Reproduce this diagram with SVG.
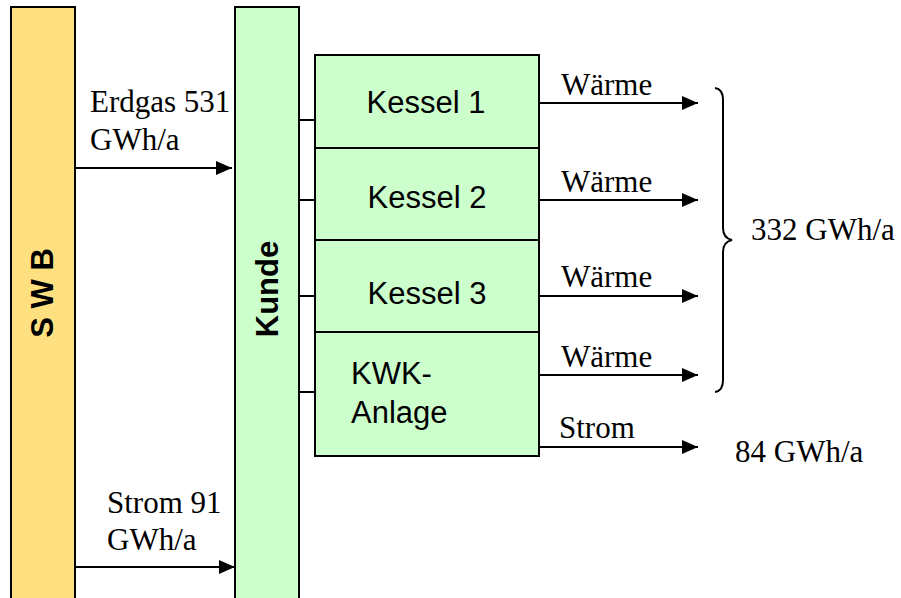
<svg xmlns="http://www.w3.org/2000/svg" width="901" height="598" viewBox="0 0 901 598">
<style>
.bar{stroke:#000;stroke-width:2}
.box{fill:#CCFFCC;stroke:#000;stroke-width:2}
.ser{font-family:"Liberation Serif","Times New Roman",serif;font-size:31px;fill:#000}
.san{font-family:"Liberation Sans",Arial,sans-serif;font-size:31px;fill:#000}
.bold{font-family:"Liberation Sans",Arial,sans-serif;font-size:31px;font-weight:bold;fill:#000}
.ln{stroke:#000;stroke-width:2;fill:none}
</style>
<defs>
<marker id="ah" markerWidth="16" markerHeight="14" refX="16" refY="7" orient="auto" markerUnits="userSpaceOnUse">
<path d="M0,0 L16,7 L0,14 Z" fill="#000"/>
</marker>
</defs>
<rect width="901" height="598" fill="#fff"/>
<g id="swb">
<rect class="bar" x="11" y="7" width="64" height="600" fill="#FFE080"/>
<text class="bold" transform="translate(53,293) rotate(-90)" text-anchor="middle">S W B</text>
</g>
<g id="kunde">
<rect class="bar" x="235" y="7" width="64" height="600" fill="#CCFFCC"/>
<text class="bold" transform="translate(278,289) rotate(-90)" text-anchor="middle">Kunde</text>
</g>
<g id="kessel1">
<rect class="box" x="315" y="55" width="224" height="93"/>
<text class="san" x="426" y="113" text-anchor="middle">Kessel 1</text>
</g>
<g id="kessel2">
<rect class="box" x="315" y="148" width="224" height="92"/>
<text class="san" x="427" y="208" text-anchor="middle">Kessel 2</text>
</g>
<g id="kessel3">
<rect class="box" x="315" y="240" width="224" height="92"/>
<text class="san" x="427" y="304" text-anchor="middle">Kessel 3</text>
</g>
<g id="kwk">
<rect class="box" x="315" y="332" width="224" height="124"/>
<text class="san" x="351" y="384">KWK-</text>
<text class="san" x="351" y="423">Anlage</text>
</g>
<g id="connectors">
<line class="ln" x1="75" y1="168" x2="232" y2="168" marker-end="url(#ah)"/>
<line class="ln" x1="75" y1="567" x2="235" y2="567" marker-end="url(#ah)"/>
<line class="ln" x1="299" y1="120" x2="315" y2="120"/>
<line class="ln" x1="299" y1="200" x2="315" y2="200"/>
<line class="ln" x1="299" y1="296" x2="315" y2="296"/>
<line class="ln" x1="299" y1="392" x2="315" y2="392"/>
<line class="ln" x1="539" y1="103" x2="698" y2="103" marker-end="url(#ah)"/>
<line class="ln" x1="539" y1="200" x2="698" y2="200" marker-end="url(#ah)"/>
<line class="ln" x1="539" y1="296" x2="698" y2="296" marker-end="url(#ah)"/>
<line class="ln" x1="539" y1="375" x2="698" y2="375" marker-end="url(#ah)"/>
<line class="ln" x1="539" y1="447" x2="698" y2="447" marker-end="url(#ah)"/>
<path class="ln" stroke-width="1.5" d="M715,88 Q723,89 723,100 L723,228 Q723,238 732,240 Q723,242 723,252 L723,380 Q723,391 715,392"/>
</g>
<g id="labels">
<text class="ser" x="90" y="112">Erdgas 531</text>
<text class="ser" x="90" y="150">GWh/a</text>
<text class="ser" x="107" y="513">Strom 91</text>
<text class="ser" x="107" y="550">GWh/a</text>
<text class="ser" x="561" y="95">Wärme</text>
<text class="ser" x="561" y="192">Wärme</text>
<text class="ser" x="561" y="287">Wärme</text>
<text class="ser" x="561" y="367">Wärme</text>
<text class="ser" x="559" y="438">Strom</text>
<text class="ser" x="751" y="240">332 GWh/a</text>
<text class="ser" x="735" y="462">84 GWh/a</text>
</g>
</svg>
